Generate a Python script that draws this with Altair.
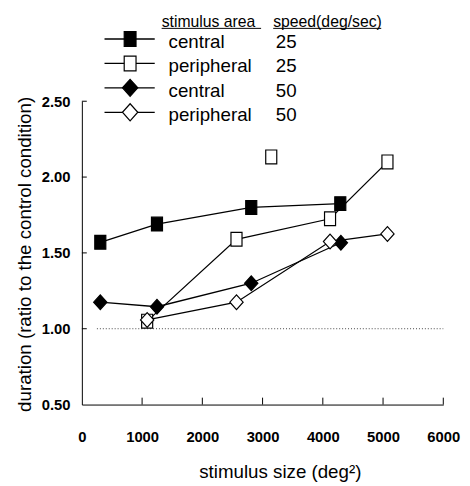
import altair as alt
import pandas as pd

# ---- data ----
series_names = ["central 25", "peripheral 25", "central 50", "peripheral 50"]
areas = ["central", "peripheral", "central", "peripheral"]
speeds = ["25", "25", "50", "50"]

c25_x = [306, 1247, 2812, 4290]
c25_y = [1.57, 1.69, 1.80, 1.825]
p25_x = [1084, 2567, 4120, 5073]
p25_y = [1.05, 1.59, 1.725, 2.10]
c50_x = [306, 1247, 2812, 4300]
c50_y = [1.175, 1.145, 1.30, 1.567]
p50_x = [1084, 2567, 4120, 5073]
p50_y = [1.058, 1.175, 1.575, 1.625]

# unconnected extra point (peripheral 25)
extra_x = [3144]
extra_y = [2.133]

ref_x = [250, 6000]
ref_y = 1.0

x_ticks = [0, 1000, 2000, 3000, 4000, 5000, 6000]
y_ticks = [0.5, 1.0, 1.5, 2.0, 2.5]

# ---- tables ----
rows = []
for name, xs, ys in zip(series_names, [c25_x, p25_x, c50_x, p50_x], [c25_y, p25_y, c50_y, p50_y]):
    for xv, yv in zip(xs, ys):
        rows.append({"series": name, "x": xv, "y": yv})
lines_df = pd.DataFrame(rows)
pts_df = pd.concat([lines_df, pd.DataFrame({"series": ["peripheral 25"] * len(extra_x), "x": extra_x, "y": extra_y})],
                   ignore_index=True)
ref_df = pd.DataFrame({"x": ref_x, "y": [ref_y] * len(ref_x)})
xt_df = pd.DataFrame({"x": x_ticks[1:]})
yt_df = pd.DataFrame({"y": y_ticks[1:]})
leg_df = pd.DataFrame({"series": series_names, "area": areas, "speed": speeds, "row": list(range(len(series_names)))})

FONT = "Liberation Sans"
W, H = 367, 308

SQ = "M-0.8,-1L0.8,-1L0.8,1L-0.8,1Z"
DM = "M0,-1L0.9,0L0,1L-0.9,0Z"
shape_scale = alt.Scale(domain=series_names, range=[SQ, SQ, DM, DM])
fill_scale = alt.Scale(domain=series_names, range=["black", "white", "black", "white"])

xs = alt.Scale(domain=[0, 6000], nice=False, zero=False)
ys = alt.Scale(domain=[0.5, 2.5], nice=False, zero=False)

x_enc = alt.X("x:Q", scale=xs, axis=alt.Axis(
    values=x_ticks, format="d", ticks=False, grid=False,
    labelFont=FONT, labelFontSize=15, labelFontWeight="bold", labelColor="black",
    labelPadding=26, labelFlush=False,
    title="stimulus size (deg²)", titleFont=FONT, titleFontSize=19, titleFontWeight="normal",
    titleColor="black", titleX=201, titleY=68, titleBaseline="middle",
    domainColor="black", domainWidth=1))
y_enc = alt.Y("y:Q", scale=ys, axis=alt.Axis(
    values=y_ticks, format=".2f", ticks=False, grid=False,
    labelFont=FONT, labelFontSize=15, labelFontWeight="bold", labelColor="black",
    labelPadding=12, labelFlush=False,
    title="duration (ratio to the control condition)", titleFont=FONT, titleFontSize=19,
    titleFontWeight="normal", titleColor="black", titleX=-58, titleY=155,
    titleAngle=-90, titleAlign="center", titleBaseline="middle",
    domainColor="black", domainWidth=1))

ref = alt.Chart(ref_df).mark_line(color="#444", strokeWidth=1, strokeDash=[1, 2]).encode(x=x_enc, y=y_enc)

lines = alt.Chart(lines_df).mark_line(color="black", strokeWidth=1.3).encode(
    x=alt.X("x:Q", scale=xs), y=alt.Y("y:Q", scale=ys), detail="series:N")

points = alt.Chart(pts_df).transform_calculate(
    sz="indexof(datum.series, '25') >= 0 ? 196 : 225"
).mark_point(filled=True, opacity=1, stroke="black", strokeWidth=1.2).encode(
    x=alt.X("x:Q", scale=xs), y=alt.Y("y:Q", scale=ys),
    shape=alt.Shape("series:N", scale=shape_scale, legend=None),
    fill=alt.Fill("series:N", scale=fill_scale, legend=None),
    size=alt.Size("sz:Q", scale=None, legend=None))

xticks = alt.Chart(xt_df).mark_rule(color="black", strokeWidth=1).encode(
    x=alt.X("x:Q", scale=xs), y=alt.value(H - 7), y2=alt.value(H))
yticks = alt.Chart(yt_df).mark_rule(color="black", strokeWidth=1).encode(
    y=alt.Y("y:Q", scale=ys), x=alt.value(0), x2=alt.value(5))

# ---- custom legend ----
leg = alt.Chart(leg_df).transform_calculate(
    ly="-63.2 + 24.8 * datum.row",
    ty="-54 + 24.8 * datum.row",
    lsz="datum.row < 2 ? 225 : 300")
leg_lines = leg.mark_rule(color="black", strokeWidth=1.3).encode(
    x=alt.value(23), x2=alt.value(74), y=alt.Y("ly:Q", scale=None))
leg_pts = leg.mark_point(filled=True, opacity=1, stroke="black", strokeWidth=1.2).encode(
    x=alt.value(49), y=alt.Y("ly:Q", scale=None),
    shape=alt.Shape("series:N", scale=shape_scale, legend=None),
    fill=alt.Fill("series:N", scale=fill_scale, legend=None),
    size=alt.Size("lsz:Q", scale=None, legend=None))
leg_area = leg.mark_text(align="left", baseline="alphabetic", font=FONT, fontSize=19, color="black").encode(
    x=alt.value(88), y=alt.Y("ty:Q", scale=None), text="area:N")
leg_speed = leg.mark_text(align="left", baseline="alphabetic", font=FONT, fontSize=19, color="black").encode(
    x=alt.value(197), y=alt.Y("ty:Q", scale=None), text="speed:N")

hdr_df = pd.DataFrame({"label": ["stimulus area", "speed(deg/sec)"], "col": [0, 1]})
hdr = alt.Chart(hdr_df).transform_calculate(
    hx="datum.col == 0 ? 81 : 194.3",
    ux2="datum.col == 0 ? 182 : 304")
hdr_text = hdr.mark_text(align="left", baseline="alphabetic", font=FONT, fontSize=16, color="black").encode(
    x=alt.X("hx:Q", scale=None), y=alt.value(-75.7), text="label:N")
hdr_line = hdr.mark_rule(color="black", strokeWidth=1).encode(
    x=alt.X("hx:Q", scale=None), x2="ux2:Q", y=alt.value(-74))

chart = alt.layer(ref, lines, points, xticks, yticks,
                  leg_lines, leg_pts, leg_area, leg_speed, hdr_text, hdr_line).properties(
    width=W, height=H,
    autosize=alt.AutoSizeParams(type="none"),
    padding={"left": 75, "top": 91, "right": 19, "bottom": 78},
).configure_view(stroke=None)

chart.save("out.html", embed_options={"renderer": "svg", "actions": False})
